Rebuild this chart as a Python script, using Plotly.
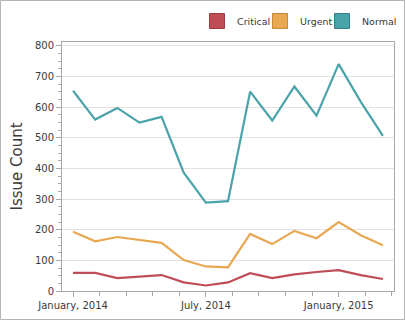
import plotly.graph_objects as go

months = ["Jan 2014", "Feb 2014", "Mar 2014", "Apr 2014", "May 2014", "Jun 2014",
          "Jul 2014", "Aug 2014", "Sep 2014", "Oct 2014", "Nov 2014", "Dec 2014",
          "Jan 2015", "Feb 2015", "Mar 2015"]
critical = [59, 59, 42, 46, 52, 28, 18, 28, 58, 42, 54, 62, 68, 52, 39]
urgent = [193, 162, 176, 167, 157, 101, 80, 77, 186, 153, 196, 172, 225, 182, 149]
normal = [653, 559, 597, 549, 568, 386, 288, 293, 650, 556, 667, 572, 740, 617, 506]
series_names = ["Critical", "Urgent", "Normal"]
series_colors = ["#bf4d55", "#e8a751", "#4aa3ab"]
swatch_borders = ["#a23a42", "#c78a3a", "#357f87"]
tick_positions = [0, 6, 12]
tick_labels = ["January, 2014", "July, 2014", "January, 2015"]

W, H = 406, 321
ml, mr, mt, mb = 62, 12, 42, 30
pw, ph = W - ml - mr, H - mt - mb
axis_col = "#a8a8a8"
text_col = "#3a3a3a"
legend_ids = ["legend", "legend2", "legend3"]
legend_left_px = [197, 260, 322]

x = list(range(len(months)))
fig = go.Figure()
for name, vals, col, bcol, lid in zip(series_names, [critical, urgent, normal],
                                       series_colors, swatch_borders, legend_ids):
    fig.add_trace(go.Scatter(x=x, y=vals, mode="lines", name=name, showlegend=False,
                             line=dict(color=col, width=2.2), customdata=months,
                             hovertemplate="%{customdata}: %{y}<extra>" + name + "</extra>"))
    fig.add_trace(go.Scatter(x=[None], y=[None], mode="markers", name=name, legend=lid,
                             marker=dict(symbol="square", size=15, color=col,
                                         line=dict(color=bcol, width=1))))

legend_layout = {}
for lid, lx in zip(legend_ids, legend_left_px):
    legend_layout[lid] = dict(orientation="h", x=(lx - ml) / pw, xanchor="left",
                              y=(H - mb - 21) / ph, yanchor="middle",
                              font=dict(family="DejaVu Sans", size=9.5, color=text_col),
                              itemsizing="trace", bgcolor="rgba(0,0,0,0)")

fig.update_layout(
    width=W, height=H,
    margin=dict(l=ml, r=mr, t=mt, b=mb, pad=0, autoexpand=False),
    paper_bgcolor="white", plot_bgcolor="white",
    font=dict(family="DejaVu Sans", size=10, color=text_col),
    showlegend=True,
    **legend_layout,
    xaxis=dict(range=[-0.5, 14.5], tickvals=tick_positions, ticktext=tick_labels,
               showgrid=False, zeroline=False, showline=True, linecolor=axis_col,
               linewidth=1, mirror=True, ticks="outside", ticklen=5, tickcolor=axis_col,
               minor=dict(tick0=0, dtick=1.2, ticks="outside", ticklen=4, tickcolor=axis_col,
                          showgrid=False),
               tickfont=dict(family="DejaVu Sans", size=10, color=text_col)),
    yaxis=dict(range=[0, 812], dtick=100, tick0=0, showgrid=True, gridcolor="#e2e2e2",
               zeroline=False, showline=True, linecolor=axis_col, linewidth=1, mirror=True,
               ticks="outside", ticklen=5, tickcolor=axis_col,
               minor=dict(dtick=25, ticks="outside", ticklen=3, tickcolor=axis_col, showgrid=False),
               tickfont=dict(family="DejaVu Sans", size=10, color=text_col),
               title=dict(text="Issue Count", font=dict(family="DejaVu Sans", size=15, color=text_col),
                          standoff=8)),
    shapes=[dict(type="rect", xref="paper", yref="paper",
                 x0=(-ml + 0.5) / pw, x1=(pw + mr - 1.5) / pw,
                 y0=(-mb + 1.5) / ph, y1=(ph + mt - 0.5) / ph,
                 line=dict(color="#b4b4b4", width=1), fillcolor="rgba(0,0,0,0)", layer="below")],
)

fig.write_html("out.html")
